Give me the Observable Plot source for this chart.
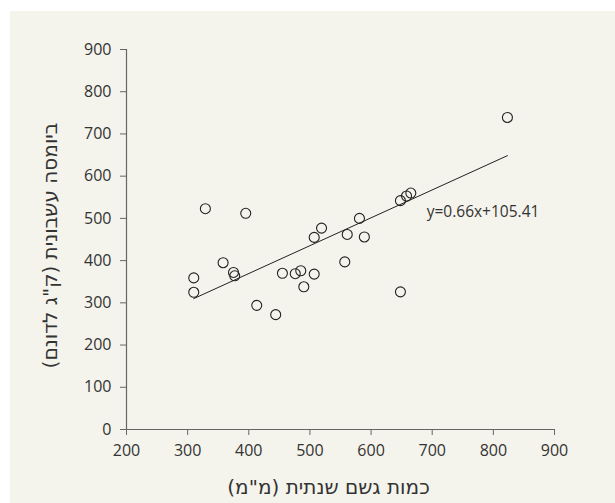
<!DOCTYPE html>
<html>
<head>
<meta charset="utf-8">
<script src="https://cdn.jsdelivr.net/npm/d3@7"></script>
<script src="https://cdn.jsdelivr.net/npm/@observablehq/plot@0.6"></script>
<style>
  html, body { margin: 0; padding: 0; background: #ffffff; }
  #wrap { position: absolute; left: 10px; top: 11px; width: 605px; height: 492px; background: #f4f3ec; }
  svg { display: block; }
</style>
</head>
<body>
<div id="wrap"></div>
<script>
// Annual rainfall (mm)
const rainfall = [823, 665, 658, 648, 648, 581, 589, 561, 557, 519, 507, 507, 485, 476, 490, 455, 444, 413, 395, 358, 375, 377, 329, 310, 310];
// Herbaceous biomass (kg per dunam)
const biomass  = [739, 560, 553, 542, 326, 500, 456, 462, 397, 477, 455, 368, 376, 369, 338, 370, 272, 294, 512, 395, 372, 364, 523, 359, 325];
// Regression y = slope*x + intercept (as printed)
const slope = [0.66];
const intercept = [105.41];
const equationText = ["y=0.66x+105.41"];
const equationAt = [{x: 691, y: 515}];
const xTicks = [200, 300, 400, 500, 600, 700, 800, 900];
const yTicks = [0, 100, 200, 300, 400, 500, 600, 700, 800, 900];
const xLabel = "כמות גשם שנתית (מ\"מ)";
const yLabel = "ביומסה עשבונית (ק\"ג לדונם)";

const points = rainfall.map((x, i) => ({x, y: biomass[i]}));
const [xmin, xmax] = d3.extent(rainfall);
const fitLine = [xmin, xmax].map(x => ({x, y: slope[0] * x + intercept[0]}));

const axisColor = "#666";
const textColor = "#333";
const font = "'Open Sans', sans-serif";
const titleFont = "'DejaVu Sans', sans-serif";

const chart = Plot.plot({
  width: 605,
  height: 492,
  marginLeft: 116,
  marginRight: 61,
  marginTop: 38,
  marginBottom: 74,
  style: {background: "transparent", fontFamily: font, fontSize: "16px", color: textColor},
  x: {domain: [200, 900], ticks: xTicks, label: null},
  y: {domain: [0, 900], ticks: yTicks, label: null},
  marks: [
    Plot.axisX({ticks: xTicks, tickSize: 6, tickPadding: 9, stroke: axisColor, fill: textColor, fontSize: 16, label: null}),
    Plot.axisY({ticks: yTicks, tickSize: 6, tickPadding: 9, stroke: axisColor, fill: textColor, fontSize: 16, label: null}),
    Plot.ruleX([200], {stroke: axisColor, strokeWidth: 1.2}),
    Plot.ruleY([0], {stroke: axisColor, strokeWidth: 1.2}),
    Plot.text([xLabel], {text: d => d, frameAnchor: "bottom", textAnchor: "middle", lineAnchor: "middle", dy: 58, dx: -12, fontSize: 20, fontFamily: titleFont, fill: textColor}),
    Plot.text([yLabel], {text: d => d, frameAnchor: "left", textAnchor: "middle", lineAnchor: "middle", dx: -76, dy: 6, rotate: -90, fontSize: 20, fontFamily: titleFont, fill: textColor}),
    Plot.line(fitLine, {x: "x", y: "y", stroke: "#222", strokeWidth: 1}),
    Plot.dot(points, {x: "x", y: "y", r: 5, stroke: "#222", strokeWidth: 1.1, fill: "none"}),
    Plot.text(equationAt, {x: "x", y: "y", text: () => equationText[0], textAnchor: "start", fontSize: 15.5, fill: textColor})
  ]
});
document.getElementById("wrap").appendChild(chart);
</script>
</body>
</html>
